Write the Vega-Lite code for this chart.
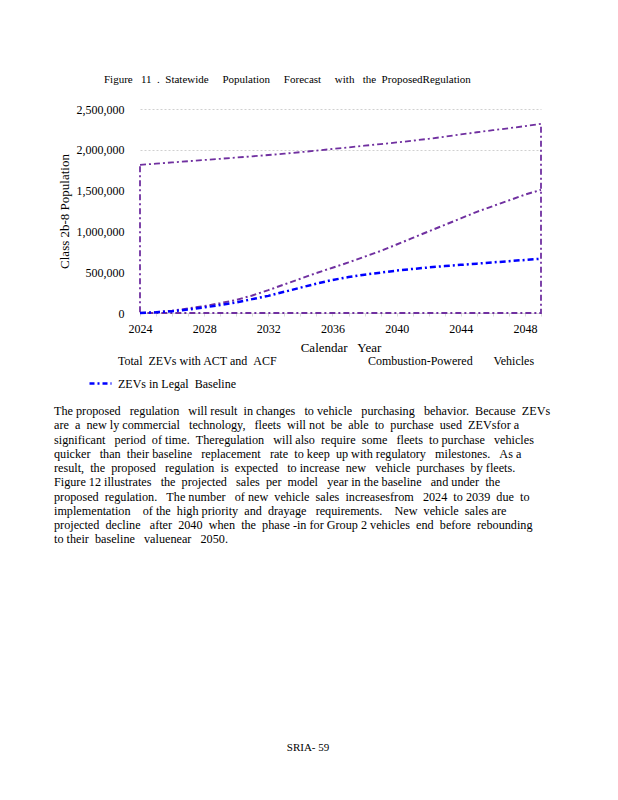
{
  "$schema": "https://vega.github.io/schema/vega-lite/v6.json",
  "background": "white",
  "padding": {"left": 54, "top": 74, "right": 0, "bottom": 0},
  "config": {
    "font": "Liberation Serif",
    "view": {"stroke": null},
    "axis": {"labelFont": "Liberation Serif", "labelFontSize": 12, "labelColor": "black", "titleFont": "Liberation Serif", "titleFontSize": 13, "titleColor": "black", "titleFontWeight": "normal"},
    "legend": {"labelFont": "Liberation Serif", "labelFontSize": 12, "labelColor": "black"}
  },
  "title": {
    "text": "Figure \u00a0 11 \u00a0. \u00a0Statewide \u00a0\u00a0\u00a0 Population \u00a0\u00a0\u00a0 Forecast \u00a0\u00a0\u00a0 with \u00a0 the \u00a0ProposedRegulation",
    "anchor": "start", "frame": "bounds", "dx": 50, "offset": 18,
    "font": "Liberation Serif", "fontSize": 11, "fontWeight": "normal", "color": "black"
  },
  "columns": 1,
  "spacing": 50,
  "concat": [
    {
      "width": 401,
      "height": 204,
      "data": {"values": [
        {"year": 2024, "comb": 1815000, "zt": 0, "zb": 0},
        {"year": 2025, "comb": 1830000, "zt": 10000, "zb": 8000},
        {"year": 2026, "comb": 1845000, "zt": 28000, "zb": 22000},
        {"year": 2027, "comb": 1860000, "zt": 55000, "zb": 42000},
        {"year": 2028, "comb": 1875000, "zt": 85000, "zb": 68000},
        {"year": 2029, "comb": 1890000, "zt": 120000, "zb": 98000},
        {"year": 2030, "comb": 1905000, "zt": 160000, "zb": 130000},
        {"year": 2031, "comb": 1920000, "zt": 215000, "zb": 170000},
        {"year": 2032, "comb": 1936000, "zt": 280000, "zb": 210000},
        {"year": 2033, "comb": 1953000, "zt": 350000, "zb": 260000},
        {"year": 2034, "comb": 1971000, "zt": 420000, "zb": 310000},
        {"year": 2035, "comb": 1990000, "zt": 490000, "zb": 360000},
        {"year": 2036, "comb": 2010000, "zt": 555000, "zb": 405000},
        {"year": 2037, "comb": 2030000, "zt": 620000, "zb": 440000},
        {"year": 2038, "comb": 2050000, "zt": 690000, "zb": 470000},
        {"year": 2039, "comb": 2070000, "zt": 760000, "zb": 495000},
        {"year": 2040, "comb": 2090000, "zt": 840000, "zb": 520000},
        {"year": 2041, "comb": 2112000, "zt": 920000, "zb": 540000},
        {"year": 2042, "comb": 2135000, "zt": 1000000, "zb": 558000},
        {"year": 2043, "comb": 2160000, "zt": 1080000, "zb": 575000},
        {"year": 2044, "comb": 2188000, "zt": 1160000, "zb": 590000},
        {"year": 2045, "comb": 2215000, "zt": 1240000, "zb": 605000},
        {"year": 2046, "comb": 2240000, "zt": 1310000, "zb": 620000},
        {"year": 2047, "comb": 2265000, "zt": 1380000, "zb": 635000},
        {"year": 2048, "comb": 2290000, "zt": 1450000, "zb": 650000},
        {"year": 2049, "comb": 2318000, "zt": 1510000, "zb": 665000}
      ]},
      "transform": [{"fold": ["comb", "zt", "zb"], "as": ["series", "value"]}],
      "encoding": {
        "x": {
          "field": "year", "type": "quantitative",
          "scale": {"domain": [2024, 2049], "nice": false, "zero": false},
          "axis": {
            "values": [2024, 2025, 2026, 2027, 2028, 2029, 2030, 2031, 2032, 2033, 2034, 2035, 2036, 2037, 2038, 2039, 2040, 2041, 2042, 2043, 2044, 2045, 2046, 2047, 2048, 2049],
            "format": "d",
            "labelExpr": "(datum.value - 2024) % 4 == 0 ? datum.label : ''",
            "labelOverlap": false, "labelFlush": false,
            "grid": false,
            "domainColor": "#d9d9d9", "tickColor": "#d9d9d9", "tickSize": 3, "labelPadding": 7,
            "title": "Calendar \u00a0\u00a0Year", "titlePadding": 7
          }
        },
        "y": {
          "field": "value", "type": "quantitative", "stack": null,
          "scale": {"domain": [0, 2500000], "nice": false},
          "axis": {
            "values": [0, 500000, 1000000, 1500000, 2000000, 2500000],
            "format": ",d",
            "ticks": false, "domain": false, "labelPadding": 16,
            "grid": true, "gridColor": "#d0d0d0", "gridDash": [2, 2],
            "gridOpacity": {"condition": {"test": "datum.value >= 2000000", "value": 1}, "value": 0},
            "title": "Class 2b-8 Population", "titlePadding": 5
          }
        }
      },
      "layer": [
        {
          "transform": [{"filter": "datum.series == 'comb'"}],
          "mark": {"type": "area", "filled": false, "fillOpacity": 0, "strokeWidth": 1.8, "strokeDash": [6, 3, 2, 3]},
          "encoding": {
            "color": {
              "datum": "Combustion-Powered Vehicles",
              "scale": {"domain": ["Total ZEVs with ACT and ACF", "Combustion-Powered Vehicles", "ZEVs in Legal Baseline"], "range": ["#7030A0", "#7030A0", "#0000FF"]},
              "legend": {
                "orient": "none", "legendX": -52, "legendY": 239, "direction": "horizontal",
                "columns": 2, "title": null, "labelLimit": 400,
                "symbolType": "stroke", "symbolSize": 484, "symbolStrokeWidth": 2.5, "symbolDash": [5, 3, 2, 3],
                "columnPadding": 60, "rowPadding": 4, "labelOffset": 5,
                "labelExpr": "datum.label == 'Combustion-Powered Vehicles' ? 'Combustion-Powered \u00a0\u00a0\u00a0\u00a0\u00a0 Vehicles' : datum.label == 'Total ZEVs with ACT and ACF' ? 'Total \u00a0ZEVs with ACT and \u00a0ACF' : 'ZEVs in Legal \u00a0Baseline'",
                "encode": {"symbols": {"update": {"opacity": {"signal": "datum.value == 'ZEVs in Legal Baseline' ? 1 : 0"}}}}
              }
            }
          }
        },
        {
          "transform": [{"filter": "datum.series == 'zt'"}],
          "mark": {"type": "line", "strokeWidth": 2, "strokeDash": [6, 3, 2, 3]},
          "encoding": {"color": {"datum": "Total ZEVs with ACT and ACF"}}
        },
        {
          "transform": [{"filter": "datum.series == 'zb'"}],
          "mark": {"type": "line", "strokeWidth": 2.5, "strokeDash": [6, 3, 2, 3]},
          "encoding": {"color": {"datum": "ZEVs in Legal Baseline"}}
        }
      ]
    },
    {
      "width": 336,
      "height": 142.5,
      "data": {"values": [
        {"line": 1, "text": "The proposed \u00a0\u00a0regulation \u00a0\u00a0will result \u00a0in changes \u00a0\u00a0to vehicle \u00a0\u00a0purchasing \u00a0\u00a0behavior. \u00a0Because \u00a0ZEVs"},
        {"line": 2, "text": "are \u00a0a \u00a0new ly commercial \u00a0\u00a0technology, \u00a0\u00a0fleets \u00a0will not \u00a0be \u00a0able \u00a0to \u00a0purchase \u00a0used \u00a0ZEVsfor a"},
        {"line": 3, "text": "significant \u00a0\u00a0period \u00a0of time. \u00a0Theregulation \u00a0\u00a0will also \u00a0require \u00a0some \u00a0\u00a0fleets \u00a0to purchase \u00a0\u00a0vehicles"},
        {"line": 4, "text": "quicker \u00a0\u00a0than \u00a0their baseline \u00a0\u00a0replacement \u00a0\u00a0rate \u00a0to keep \u00a0up with regulatory \u00a0\u00a0milestones. \u00a0\u00a0As a"},
        {"line": 5, "text": "result, \u00a0the \u00a0proposed \u00a0\u00a0regulation \u00a0is \u00a0expected \u00a0\u00a0to increase \u00a0new \u00a0\u00a0vehicle \u00a0purchases \u00a0by fleets."},
        {"line": 6, "text": "Figure 12 illustrates \u00a0\u00a0the \u00a0projected \u00a0\u00a0sales \u00a0per \u00a0model \u00a0\u00a0year in the baseline \u00a0\u00a0and under \u00a0the"},
        {"line": 7, "text": "proposed \u00a0regulation. \u00a0\u00a0The number \u00a0\u00a0of new \u00a0vehicle \u00a0sales \u00a0increasesfrom \u00a0\u00a02024 \u00a0to 2039 \u00a0due \u00a0to"},
        {"line": 8, "text": "implementation \u00a0\u00a0\u00a0of the \u00a0high priority \u00a0and \u00a0drayage \u00a0\u00a0requirements. \u00a0\u00a0\u00a0New \u00a0vehicle \u00a0sales are"},
        {"line": 9, "text": "projected \u00a0decline \u00a0\u00a0after \u00a02040 \u00a0when \u00a0the \u00a0phase -in for Group 2 vehicles \u00a0end \u00a0before \u00a0rebounding"},
        {"line": 10, "text": "to their \u00a0baseline \u00a0\u00a0valuenear \u00a0\u00a02050."}
      ]},
      "mark": {"type": "text", "align": "left", "baseline": "middle", "font": "Liberation Serif", "fontSize": 12.2, "color": "black"},
      "encoding": {
        "y": {"field": "line", "type": "ordinal", "axis": null, "scale": {"type": "band", "paddingInner": 0, "paddingOuter": 0}},
        "x": {"value": -86},
        "text": {"field": "text"}
      },
      "title": {"text": "SRIA- 59", "orient": "bottom", "anchor": "middle", "frame": "group", "offset": 195, "font": "Liberation Serif", "fontSize": 11, "fontWeight": "normal", "color": "black"}
    }
  ]
}
